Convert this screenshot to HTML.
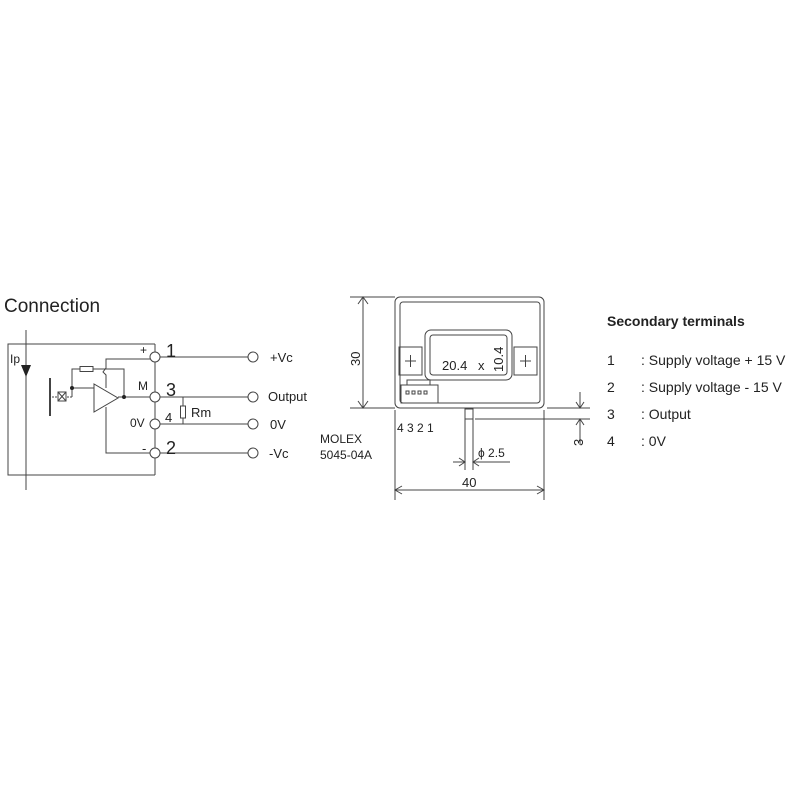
<!DOCTYPE html>
<html><head><meta charset="utf-8"><style>
html,body{margin:0;padding:0;background:#fff;}
svg{display:block;font-family:"Liberation Sans",sans-serif;}
</style></head><body>
<svg width="800" height="800" viewBox="0 0 800 800" xmlns="http://www.w3.org/2000/svg">
<rect width="800" height="800" fill="#fff"/>
<g stroke="#444" stroke-width="1" fill="none">
<!-- left schematic -->
<polyline points="155,344 8,344 8,475 155,475"/>
<line x1="155" y1="344" x2="155" y2="475"/>
<line x1="26" y1="330" x2="26" y2="490"/>
<line x1="160" y1="357" x2="248" y2="357"/>
<line x1="160" y1="397" x2="248" y2="397"/>
<line x1="160" y1="424" x2="248" y2="424"/>
<line x1="160" y1="453" x2="248" y2="453"/>
<line x1="183" y1="397" x2="183" y2="424"/>
<rect x="180.5" y="406" width="5" height="12" fill="#fff"/>
<!-- opamp -->
<polygon points="94,384 94,412 118,398" fill="#fff"/>
<line x1="118" y1="397" x2="150" y2="397"/>
<polyline points="124,397 124,369 100,369"/>
<polyline points="150,359 106,359 106,368 103,372 106,375 106,388"/>
<polyline points="106,407 106,453 150,453"/>
<polyline points="100,369 72,369 72,397"/>
<rect x="80" y="366.5" width="13" height="5" fill="#fff"/>
<line x1="72" y1="388" x2="94" y2="388"/>
<line x1="52" y1="397" x2="72" y2="397" stroke-dasharray="2,1"/>
<rect x="58" y="392" width="8" height="9" fill="#fff"/>
<line x1="58" y1="392" x2="66" y2="401"/><line x1="66" y1="392" x2="58" y2="401"/>
<line x1="50" y1="378" x2="50" y2="416" stroke-width="2"/>
<circle cx="155" cy="357" r="5" fill="#fff"/>
<circle cx="155" cy="397" r="5" fill="#fff"/>
<circle cx="155" cy="424" r="5" fill="#fff"/>
<circle cx="155" cy="453" r="5" fill="#fff"/>
<circle cx="253" cy="357" r="5" fill="#fff"/>
<circle cx="253" cy="397" r="5" fill="#fff"/>
<circle cx="253" cy="424" r="5" fill="#fff"/>
<circle cx="253" cy="453" r="5" fill="#fff"/>
<!-- device -->
<rect x="395" y="297" width="149" height="111" rx="5"/>
<rect x="400" y="302" width="140" height="101" rx="3"/>
<rect x="425" y="330" width="87" height="50" rx="6"/>
<rect x="430" y="335" width="77" height="40" rx="3"/>
<rect x="399" y="347" width="23" height="28"/>
<rect x="514" y="347" width="23" height="28"/>
<line x1="405" y1="361" x2="416" y2="361"/><line x1="410.5" y1="355" x2="410.5" y2="367"/>
<line x1="520" y1="361" x2="531" y2="361"/><line x1="525.5" y1="355" x2="525.5" y2="367"/>
<rect x="401" y="385" width="37" height="18"/>
<rect x="407" y="380" width="23" height="5"/>
<rect x="406" y="391" width="3" height="3"/><rect x="412" y="391" width="3" height="3"/><rect x="418" y="391" width="3" height="3"/><rect x="424" y="391" width="3" height="3"/>
<!-- dims -->
<line x1="350" y1="297" x2="395" y2="297"/><line x1="350" y1="408" x2="395" y2="408"/>
<line x1="363" y1="297" x2="363" y2="408"/>
<polyline points="358,304 363,297 368,304"/><polyline points="358,401 363,408 368,401"/>
<rect x="465" y="409" width="8" height="10"/>
<line x1="465" y1="419" x2="465" y2="470"/><line x1="473" y1="419" x2="473" y2="470"/>
<line x1="453" y1="462" x2="465" y2="462"/><polyline points="459,458 465,462 459,466"/>
<line x1="473" y1="462" x2="510" y2="462"/><polyline points="479,458 473,462 479,466"/>
<line x1="395" y1="410" x2="395" y2="500"/><line x1="544" y1="410" x2="544" y2="500"/>
<line x1="395" y1="490" x2="544" y2="490"/>
<polyline points="402,486 395,490 402,494"/><polyline points="537,486 544,490 537,494"/>
<line x1="547" y1="408" x2="590" y2="408"/><line x1="475" y1="419" x2="590" y2="419"/>
<line x1="580" y1="392" x2="580" y2="408"/><polyline points="576,402 580,408 584,402"/>
<line x1="580" y1="419" x2="580" y2="445"/><polyline points="576,425 580,419 584,425"/>
</g>
<polygon points="21,365 31,365 26,377" fill="#222"/>
<circle cx="124" cy="397" r="2" fill="#222"/>
<circle cx="72" cy="388" r="2" fill="#222"/>
<g fill="#222">
<text x="4" y="312" font-size="19">Connection</text>
<text x="10" y="363" font-size="12">Ip</text>
<text x="166" y="357" font-size="18">1</text>
<text x="166" y="396" font-size="18">3</text>
<text x="165" y="422" font-size="13">4</text>
<text x="166" y="454" font-size="18">2</text>
<text x="140" y="354" font-size="12">+</text>
<text x="138" y="390" font-size="12">M</text>
<text x="130" y="427" font-size="12">0V</text>
<text x="142" y="453" font-size="13">-</text>
<text x="191" y="417" font-size="13">Rm</text>
<text x="270" y="362" font-size="13">+Vc</text>
<text x="268" y="401" font-size="13">Output</text>
<text x="270" y="429" font-size="13">0V</text>
<text x="269" y="458" font-size="13">-Vc</text>
<text x="320" y="443" font-size="12">MOLEX</text>
<text x="320" y="459" font-size="12">5045-04A</text>
<text x="397" y="432" font-size="12">4 3 2 1</text>
<text x="442" y="370" font-size="13">20.4</text>
<text x="478" y="370" font-size="13">x</text>
<text transform="translate(503,372) rotate(-90)" font-size="13">10.4</text>
<text transform="translate(360,366) rotate(-90)" font-size="13">30</text>
<text transform="translate(583,446) rotate(-90)" font-size="13">3</text>
<text x="478" y="457" font-size="12">ϕ 2.5</text>
<text x="462" y="487" font-size="13">40</text>
<text x="607" y="326" font-size="14" font-weight="bold">Secondary terminals</text>
<text x="607" y="365" font-size="14">1</text><text x="641" y="365" font-size="14">: Supply voltage + 15 V</text>
<text x="607" y="392" font-size="14">2</text><text x="641" y="392" font-size="14">: Supply voltage  - 15 V</text>
<text x="607" y="419" font-size="14">3</text><text x="641" y="419" font-size="14">: Output</text>
<text x="607" y="446" font-size="14">4</text><text x="641" y="446" font-size="14">: 0V</text>
</g>
</svg>
</body></html>
